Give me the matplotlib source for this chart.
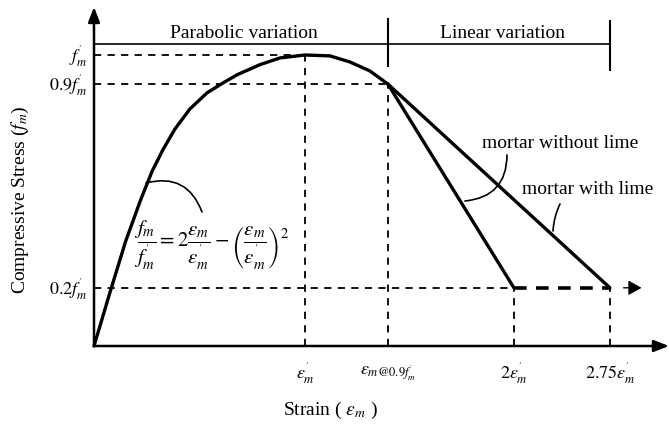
import matplotlib
matplotlib.use("Agg")
import matplotlib.pyplot as plt
import numpy as np

plt.rcParams['font.family'] = ['Liberation Serif', 'DejaVu Serif']
plt.rcParams['mathtext.fontset'] = 'stix'

# schematic strain positions (in units of eps'_m, as drawn)
curve_x = [0.0, 0.076, 0.15, 0.22, 0.275, 0.327, 0.384, 0.455, 0.536, 0.607, 0.678, 0.787, 0.882, 1.0, 1.118, 1.213, 1.308, 1.393]
curve_y = [0.0, 0.185, 0.36, 0.50, 0.60, 0.675, 0.746, 0.815, 0.870, 0.902, 0.932, 0.967, 0.990, 1.0, 0.997, 0.976, 0.945, 0.900]

x_peak = 1.0
x_09 = 1.393
x_2 = 1.99
x_275 = 2.445
y_peak = 1.0
y_09 = 0.9
y_02 = 0.2

xtick_pos = [x_peak, x_09, x_2, x_275]
xtick_labels = [r"$\varepsilon_m^{'}$", r"$\varepsilon_{m@0.9f_m^{'}}$", r"$2\varepsilon_m^{'}$", r"$2.75\varepsilon_m^{'}$"]
ytick_pos = [y_peak, y_09, y_02]
ytick_labels = [r"$f_m^{'}$", r"$0.9f_m^{'}$", r"$0.2f_m^{'}$"]

fig = plt.figure(figsize=(6.69, 4.27), dpi=100)
ax = fig.add_axes([0, 0, 1, 1])
ax.set_xlim(-94/211, (669-94)/211)
ax.set_ylim((347-427)/291, 347/291)
ax.axis('off')

k = 'black'
# axes with arrows
ax.annotate('', xy=(0, 1.165), xytext=(0, 0),
            arrowprops=dict(arrowstyle='-|>,head_length=0.9,head_width=0.35', lw=1.8, color=k, shrinkA=0, shrinkB=0))
ax.annotate('', xy=(2.725, 0), xytext=(0, 0),
            arrowprops=dict(arrowstyle='-|>,head_length=0.9,head_width=0.35', lw=1.8, color=k, shrinkA=0, shrinkB=0))

# guides
dash = dict(color=k, lw=1.3, ls=(0, (4, 3.5)))
ax.plot([0, x_peak], [y_peak, y_peak], **dash)
ax.plot([0, x_09], [y_09, y_09], **dash)
ax.plot([0, x_2], [y_02, y_02], **dash)
ax.plot([x_peak, x_peak], [0, y_peak], **dash)
ax.plot([x_09, x_09], [0, y_09], **dash)
ax.plot([x_2, x_2], [0, y_02], **dash)
ax.plot([x_275, x_275], [0, y_02], **dash)

# main curve
ax.plot(curve_x, curve_y, color=k, lw=2.4, solid_capstyle='round', solid_joinstyle='round')
ax.plot([x_09, x_2], [y_09, y_02], color=k, lw=2.4, solid_capstyle='round')
ax.plot([x_09, x_275], [y_09, y_02], color=k, lw=2.4, solid_capstyle='round')
# residual branch
ax.plot([x_2, x_275], [y_02, y_02], color=k, lw=2.6, ls=(0, (3.5, 2.6)))
ax.annotate('', xy=(2.595, y_02), xytext=(2.51, y_02),
            arrowprops=dict(arrowstyle='-|>,head_length=0.8,head_width=0.45', lw=1.0, color=k, shrinkA=0, shrinkB=0))

# region bracket
yb = 1.038
ax.plot([0, x_275], [yb, yb], color=k, lw=1.2)
ax.plot([x_09, x_09], [0.962, 1.124], color=k, lw=1.5)
ax.plot([x_275, x_275], [0.948, 1.117], color=k, lw=1.5)
ax.text((244-94)/211, 1.078, "Parabolic variation", ha='center', va='center', fontsize=14)
ax.text((503-94)/211, 1.078, "Linear variation", ha='center', va='center', fontsize=14)

# tick labels
for yp, lab in zip(ytick_pos, ytick_labels):
    ax.text(-0.03, yp, lab, ha='right', va='center', fontsize=13)
for xp, lab in zip(xtick_pos, xtick_labels):
    ax.text(xp, -0.09, lab, ha='center', va='center', fontsize=13)

ax.text((330-94)/211, (347-410)/291, r"Strain ( $\varepsilon_m$ )", ha='center', va='center', fontsize=14)
ax.text((20-94)/211, (347-200)/291, r"Compressive Stress ($f_m$)", ha='center', va='center', fontsize=14, rotation=90)

# annotations
ax.text((560-94)/211, (347-143)/291, "mortar without lime", ha='center', va='center', fontsize=14)
ax.text((588-94)/211, (347-190)/291, "mortar with lime", ha='center', va='center', fontsize=14)
ax.annotate('', xy=((465-94)/211, (347-202)/291), xytext=((507-94)/211, (347-156)/291),
            arrowprops=dict(arrowstyle='-', lw=1.2, color=k, connectionstyle='arc3,rad=-0.45', shrinkA=0, shrinkB=0))
ax.annotate('', xy=((553-94)/211, (347-232)/291), xytext=((560-94)/211, (347-205)/291),
            arrowprops=dict(arrowstyle='-', lw=1.2, color=k, connectionstyle='arc3,rad=0.1', shrinkA=0, shrinkB=0))
ax.annotate('', xy=((202-94)/211, (347-213)/291), xytext=((146-94)/211, (347-184)/291),
            arrowprops=dict(arrowstyle='-', lw=1.2, color=k, connectionstyle='arc3,rad=-0.45', shrinkA=0, shrinkB=0))
ax.text((212-94)/211, (347-245)/291,
        r"$\dfrac{f_m}{f_m^{'}} = 2\dfrac{\varepsilon_m}{\varepsilon_m^{'}} - \left(\dfrac{\varepsilon_m}{\varepsilon_m^{'}}\right)^2$",
        ha='center', va='center', fontsize=15)

fig.savefig("out.png", dpi=100)
